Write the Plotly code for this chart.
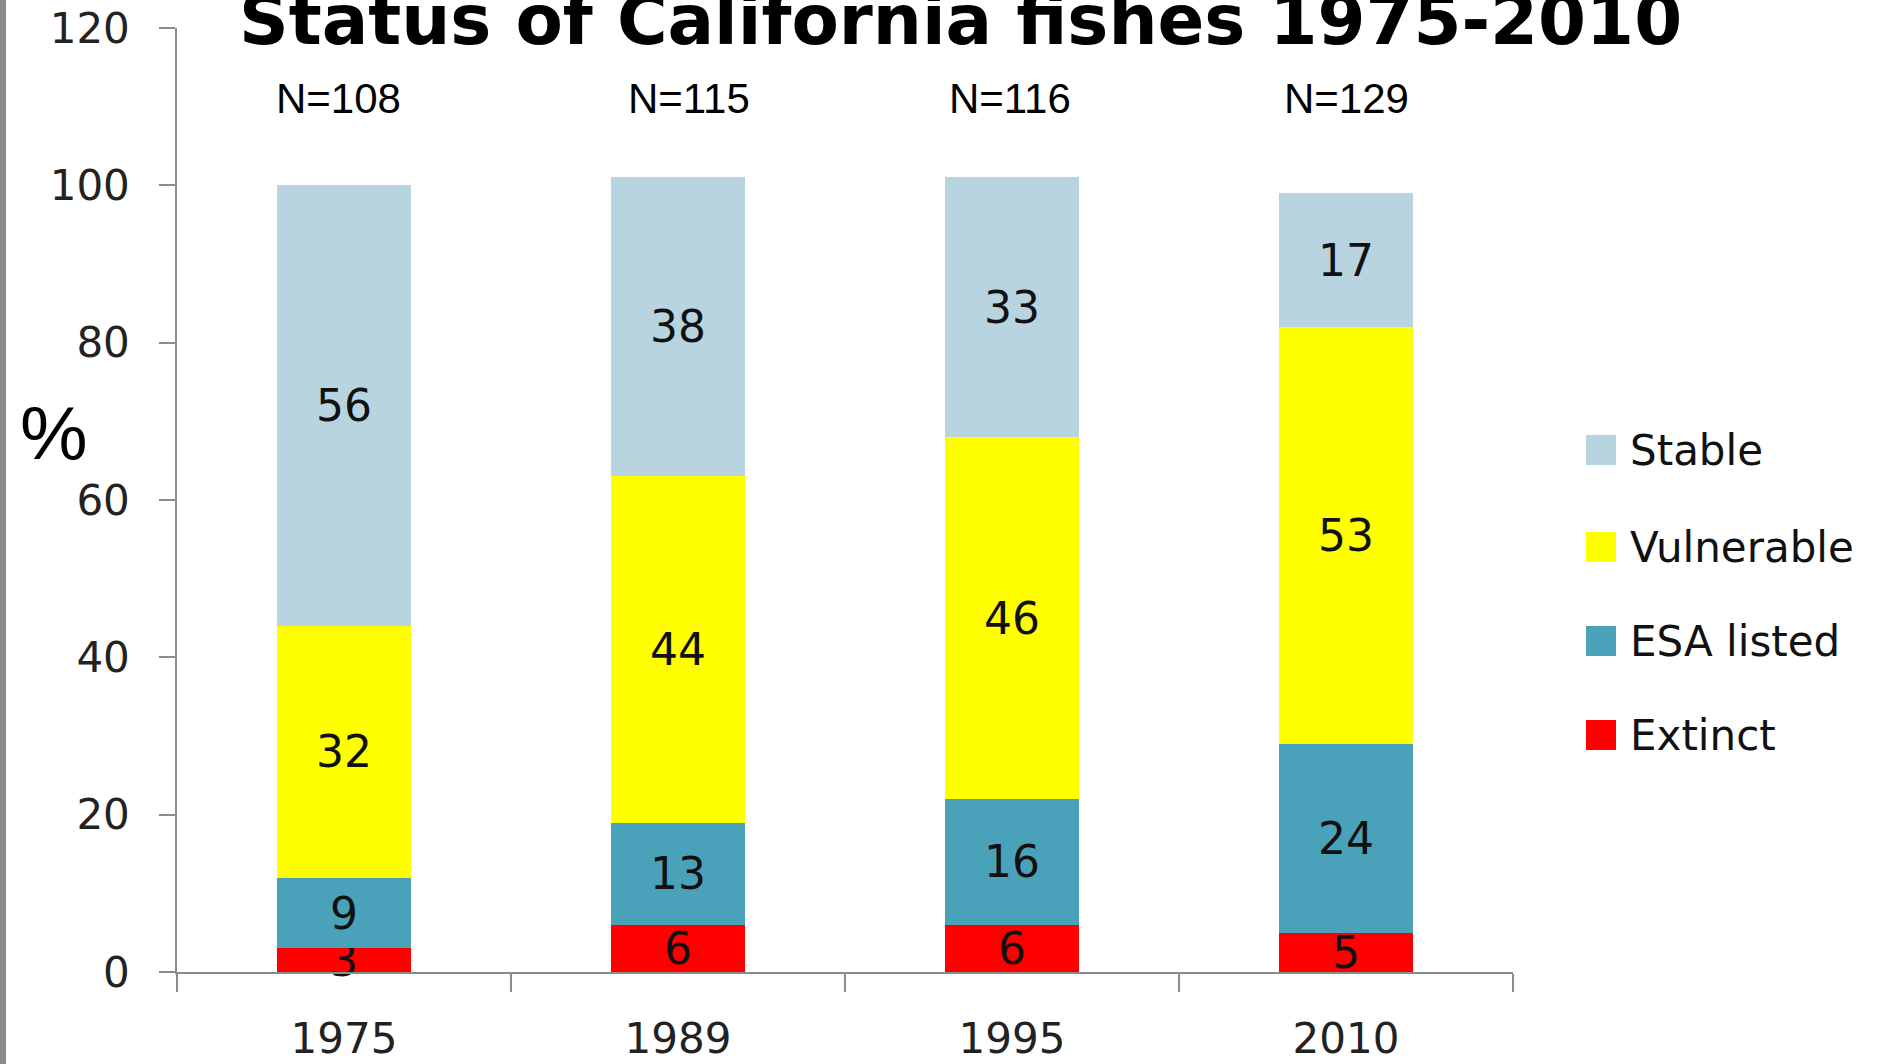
import plotly.graph_objects as go

# Survey years and number of taxa assessed in each
years = ["1975", "1989", "1995", "2010"]
n_taxa = [108, 115, 116, 129]

# Percent of taxa in each status class
extinct = [3, 6, 6, 5]
esa_listed = [9, 13, 16, 24]
vulnerable = [32, 44, 46, 53]
stable = [56, 38, 33, 17]

series = [
    ("Extinct", extinct, "#FF0000"),
    ("ESA listed", esa_listed, "#4AA2BA"),
    ("Vulnerable", vulnerable, "#FFFF00"),
    ("Stable", stable, "#B7D4E0"),
]

W, H = 1880, 1064
ML, MR, MT, MB = 177, 367, 28, 92
PW, PH = W - ML - MR, H - MT - MB

def px_x(x):
    return (x - ML) / PW

def px_y(y):
    return (H - MB - y) / PH

fig = go.Figure()
for name, vals, color in series:
    fig.add_trace(go.Bar(
        x=years, y=vals, name=name,
        marker=dict(color=color, line=dict(width=0)),
        text=[str(v) for v in vals],
        textposition="inside", insidetextanchor="middle", textangle=0,
        textfont=dict(family="DejaVu Sans", size=44, color="#111"),
        cliponaxis=False, showlegend=False,
    ))

# Sample sizes above each bar (category index positions, hand-nudged text boxes)
n_label_shift = [-6, 11, -2, 0]
for i, n in enumerate(n_taxa):
    fig.add_annotation(x=i, y=111, xref="x", yref="y", text=f"N={n}",
                       showarrow=False, xshift=n_label_shift[i],
                       font=dict(family="Liberation Sans", size=42, color="#000"))

# Legend drawn as keys + labels (top to bottom)
legend_rows = [("Stable", "#B7D4E0", 450), ("Vulnerable", "#FFFF00", 547),
               ("ESA listed", "#4AA2BA", 641), ("Extinct", "#FF0000", 735)]
shapes = []
for label, color, yc in legend_rows:
    shapes.append(dict(type="rect", xref="paper", yref="paper",
                       x0=px_x(1586), x1=px_x(1616), y0=px_y(yc + 15), y1=px_y(yc - 15),
                       fillcolor=color, line=dict(width=0)))
    fig.add_annotation(x=px_x(1628), y=px_y(yc), xref="paper", yref="paper",
                       xanchor="left", yanchor="middle", text=label, showarrow=False,
                       font=dict(family="DejaVu Sans", size=42, color="#111"))

# Slide border on the left edge
shapes.append(dict(type="rect", xref="paper", yref="paper",
                   x0=px_x(0), x1=px_x(6), y0=px_y(H), y1=px_y(0),
                   fillcolor="#8a8a8a", line=dict(width=0)))

# Title and axis label
fig.add_annotation(x=px_x(960), y=px_y(20), xref="paper", yref="paper",
                   text="<b>Status of California fishes 1975-2010</b>", showarrow=False,
                   xanchor="center", yanchor="middle",
                   font=dict(family="DejaVu Sans", size=69, color="#000"))
fig.add_annotation(x=px_x(54), y=px_y(432), xref="paper", yref="paper",
                   text="%", showarrow=False, xanchor="center", yanchor="middle",
                   font=dict(family="Liberation Sans", size=76, color="#000"))

fig.update_layout(
    barmode="stack", bargap=0.6,
    width=W, height=H,
    margin=dict(l=ML, r=MR, t=MT, b=MB, pad=0, autoexpand=False),
    paper_bgcolor="white", plot_bgcolor="white",
    shapes=shapes,
    uniformtext=dict(minsize=44, mode="show"),
    xaxis=dict(type="category", range=[-0.5, 3.5], autorange=False, automargin=False,
               showgrid=False, showline=True, linecolor="#8c8c8c",
               linewidth=1.5, ticks="outside", tickson="boundaries", ticklen=18,
               tickcolor="#8c8c8c", tickwidth=1.5, ticklabelstandoff=29, tickangle=0,
               tickfont=dict(family="DejaVu Sans", size=42, color="#222")),
    yaxis=dict(range=[0, 120], autorange=False, automargin=False, dtick=20,
               showgrid=False, zeroline=False, showline=True,
               linecolor="#8c8c8c", linewidth=1.5, ticks="outside", ticklen=16,
               tickcolor="#8c8c8c", tickwidth=1.5, ticklabelstandoff=21,
               tickfont=dict(family="DejaVu Sans", size=42, color="#222")),
)

fig.write_html("out.html")
